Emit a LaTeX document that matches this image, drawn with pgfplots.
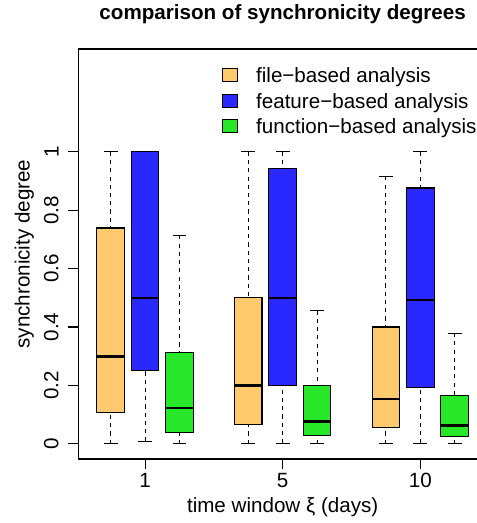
\documentclass[border=0pt,12pt]{standalone}
\usepackage{fontspec}
\setmainfont{Liberation Sans}
\usepackage{pgfplots}
\pgfplotsset{compat=1.18}
\usepgfplotslibrary{statistics}
\definecolor{fileC}{RGB}{255,201,110}
\definecolor{featC}{RGB}{40,40,255}
\definecolor{funcC}{RGB}{40,230,40}
\pgfplotsset{
  boxplot/draw/lower whisker/.code={%
    \draw[/pgfplots/boxplot/every whisker/.try, dash pattern=on 2.4pt off 2.4pt]
      (boxplot box cs:\pgfplotsboxplotvalue{lower whisker},0.5) --
      (boxplot box cs:\pgfplotsboxplotvalue{lower quartile},0.5);
    \draw[/pgfplots/boxplot/every whisker/.try]
      (boxplot whisker cs:\pgfplotsboxplotvalue{lower whisker},0) --
      (boxplot whisker cs:\pgfplotsboxplotvalue{lower whisker},1);
  },
  boxplot/draw/upper whisker/.code={%
    \draw[/pgfplots/boxplot/every whisker/.try, dash pattern=on 2.4pt off 2.4pt]
      (boxplot box cs:\pgfplotsboxplotvalue{upper whisker},0.5) --
      (boxplot box cs:\pgfplotsboxplotvalue{upper quartile},0.5);
    \draw[/pgfplots/boxplot/every whisker/.try]
      (boxplot whisker cs:\pgfplotsboxplotvalue{upper whisker},0) --
      (boxplot whisker cs:\pgfplotsboxplotvalue{upper whisker},1);
  },
  rbox/.style={boxplot/draw direction=y,
    boxplot/every box/.style={draw=black, fill=#1, line width=0.6pt},
    boxplot/every whisker/.style={black, line width=0.6pt},
    boxplot/every median/.style={black, line width=1.5pt},
    boxplot/box extend=0.8, boxplot/whisker extend=0.4, mark=none, forget plot},
}
\begin{document}
\begin{tikzpicture}
\begin{axis}[
  scale only axis,
  width=238.07pt, height=238.83pt,
  xmin=0.06, xmax=11.94, ymin=-0.052, ymax=1.352,
  xtick={2,6,10}, xticklabels={1,5,10},
  ytick={0,0.2,0.4,0.6,0.8,1}, yticklabels={0,0.2,0.4,0.6,0.8,1},
  tick pos=left, tick align=outside, major tick length=5.8pt,
  tick style={black, line width=0.6pt},
  axis line style={line width=0.6pt},
  xticklabel style={anchor=north, inner sep=0pt},
  yticklabel style={rotate=90, anchor=south, inner sep=0pt},
  xticklabel shift=2.4pt, yticklabel shift=5.5pt,
  /pgf/number format/assume math mode=true,
  title={comparison of synchronicity degrees},
  every axis title/.style={font=\bfseries, at={(axis description cs:0.5,1)}, anchor=base, yshift=16.9pt, inner sep=0pt},
  xlabel={time window ξ (days)},
  xlabel style={at={(axis description cs:0.5,0)}, anchor=base, yshift=-31pt, inner sep=0pt},
  ylabel={synchronicity degree},
  ylabel style={at={(axis description cs:0,0.5)}, anchor=base, yshift=28.4pt, inner sep=0pt},
  legend cell align=left,
  legend style={at={(axis description cs:0.3507,0.954)}, anchor=north west, draw=none, fill=none,
    inner sep=0pt, outer sep=0pt, column sep=10.8pt, row sep=6.25pt,
    nodes={inner sep=0pt, text height=8.6pt, text depth=0pt}},
]
\addlegendimage{legend image code/.code={\draw[draw=black, fill=fileC, line width=0.6pt] (0pt,-3.8pt) rectangle (8.7pt,3.8pt);}}
\addlegendentry{file−based analysis}
\addlegendimage{legend image code/.code={\draw[draw=black, fill=featC, line width=0.6pt] (0pt,-3.8pt) rectangle (8.7pt,3.8pt);}}
\addlegendentry{feature−based analysis}
\addlegendimage{legend image code/.code={\draw[draw=black, fill=funcC, line width=0.6pt] (0pt,-3.8pt) rectangle (8.7pt,3.8pt);}}
\addlegendentry{function−based analysis}
% window 1
\addplot[rbox=fileC, boxplot prepared={draw position=1, lower whisker=0, lower quartile=0.106, median=0.299, upper quartile=0.739, upper whisker=1}] coordinates {};
\addplot[rbox=featC, boxplot prepared={draw position=2, lower whisker=0.008, lower quartile=0.250, median=0.500, upper quartile=1.0, upper whisker=1}] coordinates {};
\addplot[rbox=funcC, boxplot prepared={draw position=3, lower whisker=0, lower quartile=0.040, median=0.123, upper quartile=0.312, upper whisker=0.714}] coordinates {};
% window 5
\addplot[rbox=fileC, boxplot prepared={draw position=5, lower whisker=0, lower quartile=0.066, median=0.200, upper quartile=0.500, upper whisker=1}] coordinates {};
\addplot[rbox=featC, boxplot prepared={draw position=6, lower whisker=0.002, lower quartile=0.200, median=0.500, upper quartile=0.944, upper whisker=1}] coordinates {};
\addplot[rbox=funcC, boxplot prepared={draw position=7, lower whisker=0, lower quartile=0.029, median=0.076, upper quartile=0.200, upper whisker=0.456}] coordinates {};
% window 10
\addplot[rbox=fileC, boxplot prepared={draw position=9, lower whisker=0, lower quartile=0.056, median=0.153, upper quartile=0.400, upper whisker=0.916}] coordinates {};
\addplot[rbox=featC, boxplot prepared={draw position=10, lower whisker=0.002, lower quartile=0.194, median=0.492, upper quartile=0.876, upper whisker=1}] coordinates {};
\addplot[rbox=funcC, boxplot prepared={draw position=11, lower whisker=0, lower quartile=0.025, median=0.063, upper quartile=0.166, upper whisker=0.379}] coordinates {};
\end{axis}
\pgfresetboundingbox
\path[use as bounding box] (-45.61pt,-37.28pt) rectangle (232.24pt,267.37pt);
\end{tikzpicture}
\end{document}
